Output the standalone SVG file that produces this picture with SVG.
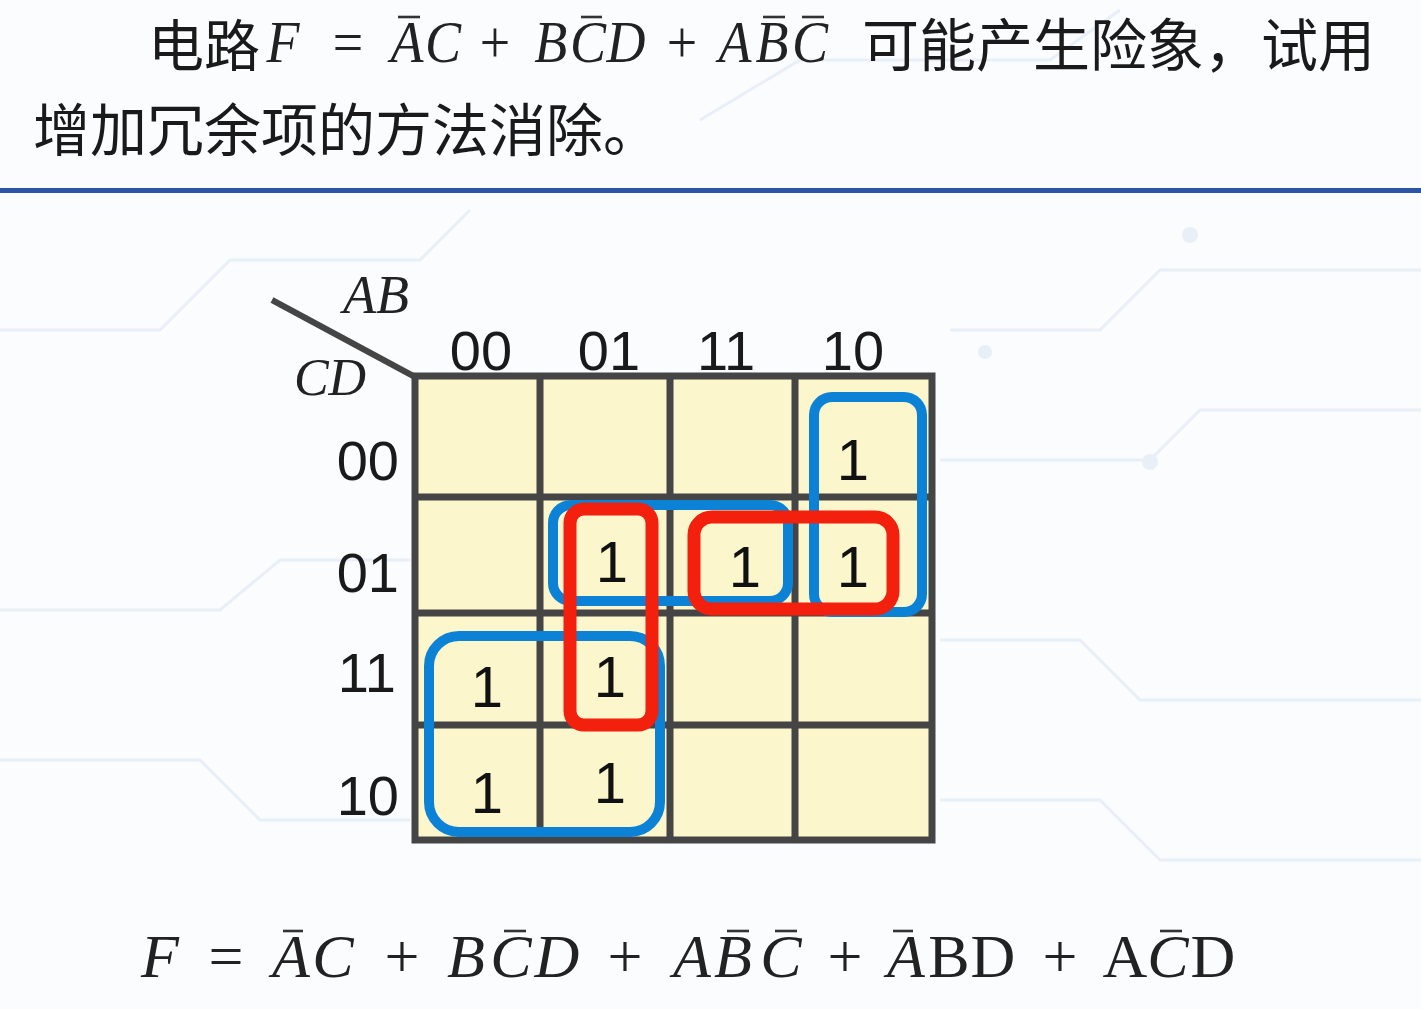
<svg xmlns="http://www.w3.org/2000/svg" width="1421" height="1009" viewBox="0 0 1421 1009">
<style>
.cjk{font-family:"Noto Sans CJK SC","Noto Sans",sans-serif;fill:#1a1a1a}
.mi{font-family:"Liberation Serif",serif;font-style:italic;fill:#222;text-anchor:middle}
.mr{font-family:"Liberation Serif",serif;fill:#222;text-anchor:middle}
.lbl{font-family:"Liberation Sans",Arial,sans-serif;fill:#1a1a1a}
.one{font-family:"Liberation Sans",Arial,sans-serif;font-size:58px;fill:#111;text-anchor:middle}
.bar{stroke:#333;stroke-width:2.6}
.cell{fill:#FBF6CB}
.grid{stroke:#454545;stroke-width:7;fill:none}
.blue{fill:none;stroke:#0B82D6;stroke-width:10}
.red{fill:none;stroke:#F2200C;stroke-width:13}
.bg{fill:none;stroke:#E9EFF6;stroke-width:3}
</style>
<rect width="1421" height="1009" fill="#FBFCFE"/>
<g id="background">
<polyline class="bg" points="0,330 160,330 230,260 420,260 470,210"/>
<polyline class="bg" points="950,330 1100,330 1160,270 1421,270"/>
<polyline class="bg" points="940,460 1150,460 1200,410 1421,410"/>
<polyline class="bg" points="0,610 220,610 280,560 410,560"/>
<polyline class="bg" points="940,640 1080,640 1140,700 1421,700"/>
<polyline class="bg" points="0,760 200,760 260,820 410,820"/>
<polyline class="bg" points="700,120 800,60 1050,60 1120,10"/>
<polyline class="bg" points="940,800 1100,800 1160,860 1421,860"/>
<circle cx="1190" cy="235" r="8" fill="#E9EFF6"/>
<circle cx="1150" cy="462" r="8" fill="#E9EFF6"/>
<circle cx="985" cy="352" r="7" fill="#E9EFF6"/>
</g>
<rect x="0" y="188" width="1421" height="5" fill="#2E55A5"/>
<g id="title">
<text class="cjk" x="148" y="66" font-size="56">电路</text>
<text font-size="60" transform="scale(0.9,1)"><tspan class="mi" x="314.4" y="62">F</tspan><tspan class="mr" x="386.7" y="62">=</tspan><tspan class="mi" x="452.2" y="62">A</tspan><tspan class="mi" x="492.2" y="62">C</tspan><tspan class="mr" x="550" y="62">+</tspan><tspan class="mi" x="612" y="62">B</tspan><tspan class="mi" x="653.3" y="62">C</tspan><tspan class="mi" x="695.5" y="62">D</tspan><tspan class="mr" x="757.8" y="62">+</tspan><tspan class="mi" x="816.7" y="62">A</tspan><tspan class="mi" x="857.8" y="62">B</tspan><tspan class="mi" x="900" y="62">C</tspan></text>
<text class="cjk" x="862" y="66" font-size="57">可能产生险象，试用</text>
<text class="cjk" x="33" y="151" font-size="57">增加冗余项的方法消除。</text>
<g id="title-bars">
<line class="bar" x1="398" y1="17" x2="420" y2="17"/>
<line class="bar" x1="581" y1="17" x2="602" y2="17"/>
<line class="bar" x1="763" y1="17" x2="785" y2="17"/>
<line class="bar" x1="802" y1="17" x2="824" y2="17"/>
</g>
</g>
<g id="kmap">
<rect class="cell" x="415" y="376" width="517" height="464"/>
<line x1="272" y1="300" x2="417" y2="378" stroke="#454545" stroke-width="6"/>
<rect class="grid" x="415" y="376" width="517" height="464"/>
<line class="grid" x1="540" y1="376" x2="540" y2="840"/>
<line class="grid" x1="670" y1="376" x2="670" y2="840"/>
<line class="grid" x1="795" y1="376" x2="795" y2="840"/>
<line class="grid" x1="415" y1="497" x2="932" y2="497"/>
<line class="grid" x1="415" y1="613" x2="932" y2="613"/>
<line class="grid" x1="415" y1="725" x2="932" y2="725"/>
<text class="mi" x="376" y="313" font-size="54">AB</text>
<text class="mi" x="330" y="395" font-size="52">CD</text>
<g class="lbl" font-size="56" text-anchor="middle">
<text x="481" y="370">00</text>
<text x="609" y="370">01</text>
<text x="726" y="370">11</text>
<text x="853" y="370">10</text>
</g>
<g class="lbl" font-size="56" text-anchor="end">
<text x="399" y="480">00</text>
<text x="399" y="592">01</text>
<text x="396" y="692">11</text>
<text x="399" y="815">10</text>
</g>
</g>
<g id="cells">
<text class="one" x="853" y="480">1</text>
<text class="one" x="612" y="582">1</text>
<text class="one" x="745" y="587">1</text>
<text class="one" x="853" y="587">1</text>
<text class="one" x="487" y="707">1</text>
<text class="one" x="610" y="697">1</text>
<text class="one" x="487" y="813">1</text>
<text class="one" x="610" y="803">1</text>
</g>
<g id="groups">
<rect id="g-col10" class="blue" x="814" y="397" width="108" height="215" rx="18"/>
<rect id="g-row01" class="blue" x="553" y="505" width="235" height="96" rx="18"/>
<rect id="g-bl" class="blue" x="429" y="636" width="231" height="196" rx="30"/>
<rect id="r-col01" class="red" x="570" y="509" width="82" height="216" rx="14"/>
<rect id="r-row01" class="red" x="694" y="517" width="199" height="92" rx="18"/>
</g>
<g id="result">
<text font-size="62"><tspan class="mi" x="160" y="977">F</tspan><tspan class="mr" x="226" y="977">=</tspan><tspan class="mi" x="291" y="977">A</tspan><tspan class="mi" x="333" y="977">C</tspan><tspan class="mr" x="402" y="977">+</tspan><tspan class="mi" x="466" y="977">B</tspan><tspan class="mi" x="511" y="977">C</tspan><tspan class="mi" x="557" y="977">D</tspan><tspan class="mr" x="625" y="977">+</tspan><tspan class="mi" x="692" y="977">A</tspan><tspan class="mi" x="733" y="977">B</tspan><tspan class="mi" x="781" y="977">C</tspan><tspan class="mr" x="845" y="977">+</tspan><tspan class="mi" x="906" y="977">A</tspan><tspan class="mr" x="949" y="977">B</tspan><tspan class="mr" x="993" y="977">D</tspan><tspan class="mr" x="1060" y="977">+</tspan><tspan class="mr" x="1125" y="977">A</tspan><tspan class="mi" x="1168" y="977">C</tspan><tspan class="mr" x="1213" y="977">D</tspan></text>
<g id="result-bars">
<line class="bar" x1="283" y1="931" x2="303" y2="931"/>
<line class="bar" x1="504" y1="931" x2="526" y2="931"/>
<line class="bar" x1="727" y1="931" x2="749" y2="931"/>
<line class="bar" x1="775" y1="931" x2="797" y2="931"/>
<line class="bar" x1="893" y1="931" x2="913" y2="931"/>
<line class="bar" x1="1160" y1="931" x2="1182" y2="931"/>
</g>
</g>
</svg>
